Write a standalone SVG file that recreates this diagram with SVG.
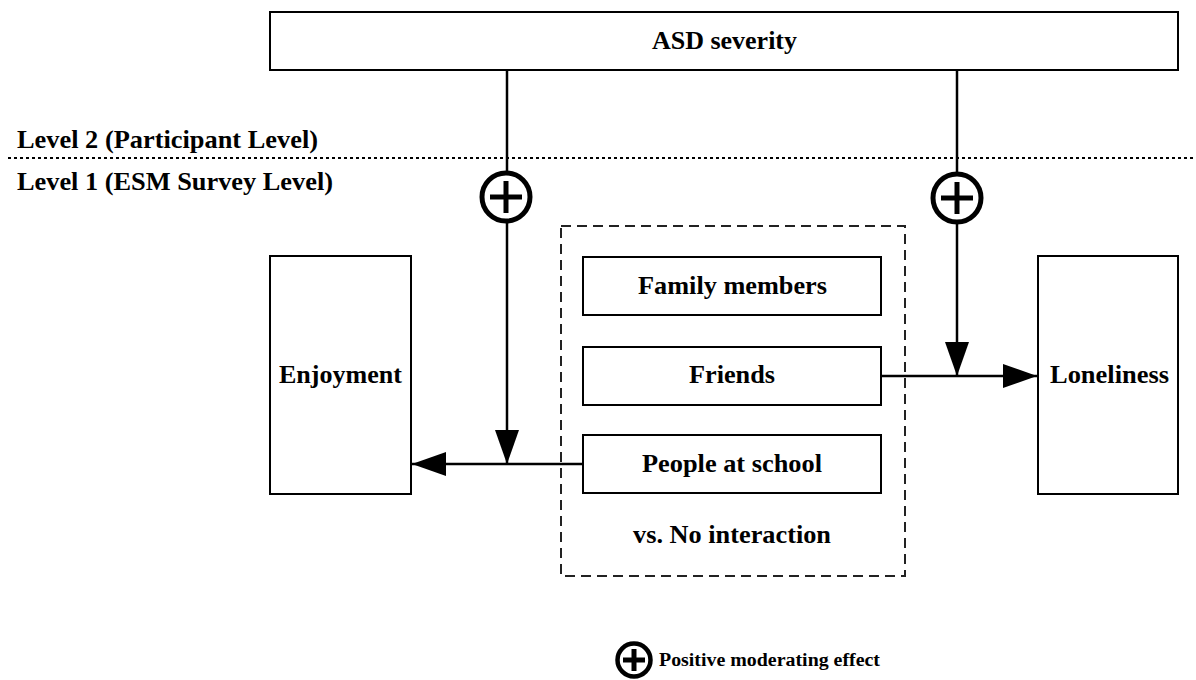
<svg xmlns="http://www.w3.org/2000/svg" width="1196" height="680" viewBox="0 0 1196 680">
<style>
.box{fill:#fff;stroke:#000;stroke-width:2}
.t{font-family:"Liberation Serif","Times New Roman",serif;font-weight:bold;font-size:25px;fill:#000}
.line{stroke:#000;stroke-width:2.5;fill:none}
.circ{fill:#fff;stroke:#000;stroke-width:5}
.plus{stroke:#000;stroke-width:5}
</style>
<defs>
<marker id="ah" markerUnits="userSpaceOnUse" markerWidth="34" markerHeight="24" refX="34" refY="12" orient="auto">
<path d="M0,0 L34,12 L0,24 Z" fill="#000"/>
</marker>
</defs>
<rect width="1196" height="680" fill="#fff"/>
<line x1="8" y1="158" x2="1196" y2="158" stroke="#000" stroke-width="2" stroke-dasharray="3,3"/>
<text class="t" x="17" y="148" textLength="301" lengthAdjust="spacingAndGlyphs">Level 2 (Participant Level)</text>
<text class="t" x="17" y="190" textLength="316" lengthAdjust="spacingAndGlyphs">Level 1 (ESM Survey Level)</text>
<g id="connectors">
<line class="line" x1="507" y1="70" x2="507" y2="172"/>
<line class="line" x1="507" y1="222" x2="507" y2="464" marker-end="url(#ah)"/>
<line class="line" x1="957" y1="70" x2="957" y2="174"/>
<line class="line" x1="957" y1="222" x2="957" y2="376" marker-end="url(#ah)"/>
<line class="line" x1="583" y1="464" x2="412" y2="464" marker-end="url(#ah)"/>
<line class="line" x1="881" y1="376" x2="1037" y2="376" marker-end="url(#ah)"/>
</g>
<g id="asd"><rect class="box" x="270" y="12" width="908" height="58"/><text class="t" x="652" y="49" textLength="145" lengthAdjust="spacingAndGlyphs">ASD severity</text></g>
<g id="mod1"><circle class="circ" cx="506" cy="197" r="24"/><line class="plus" x1="490" y1="197" x2="522" y2="197"/><line class="plus" x1="506" y1="181" x2="506" y2="213"/></g>
<g id="mod2"><circle class="circ" cx="957" cy="198" r="24"/><line class="plus" x1="941" y1="198" x2="973" y2="198"/><line class="plus" x1="957" y1="182" x2="957" y2="214"/></g>
<g id="enjoyment"><rect class="box" x="270" y="256" width="141" height="238"/><text class="t" x="279" y="383" textLength="123" lengthAdjust="spacingAndGlyphs">Enjoyment</text></g>
<g id="loneliness"><rect class="box" x="1038" y="256" width="140" height="238"/><text class="t" x="1050" y="383" textLength="119" lengthAdjust="spacingAndGlyphs">Loneliness</text></g>
<g id="group"><rect x="561" y="226" width="344" height="350" fill="none" stroke="#222" stroke-width="2" stroke-dasharray="10,6"/></g>
<g id="family"><rect class="box" x="583" y="257" width="298" height="58"/><text class="t" x="638" y="294" textLength="189" lengthAdjust="spacingAndGlyphs">Family members</text></g>
<g id="friends"><rect class="box" x="583" y="347" width="298" height="58"/><text class="t" x="689" y="383" textLength="86" lengthAdjust="spacingAndGlyphs">Friends</text></g>
<g id="school"><rect class="box" x="583" y="435" width="298" height="58"/><text class="t" x="642" y="472" textLength="180" lengthAdjust="spacingAndGlyphs">People at school</text></g>
<text class="t" x="633" y="543" textLength="198" lengthAdjust="spacingAndGlyphs">vs. No interaction</text>
<g id="legend"><circle cx="634" cy="660" r="16.5" fill="#fff" stroke="#000" stroke-width="4.5"/><line class="plus" x1="623" y1="660" x2="645" y2="660"/><line class="plus" x1="634" y1="649" x2="634" y2="671"/><text x="659" y="666" font-family="Liberation Serif, serif" font-weight="bold" font-size="18" fill="#000" textLength="221" lengthAdjust="spacingAndGlyphs">Positive moderating effect</text></g>
</svg>
